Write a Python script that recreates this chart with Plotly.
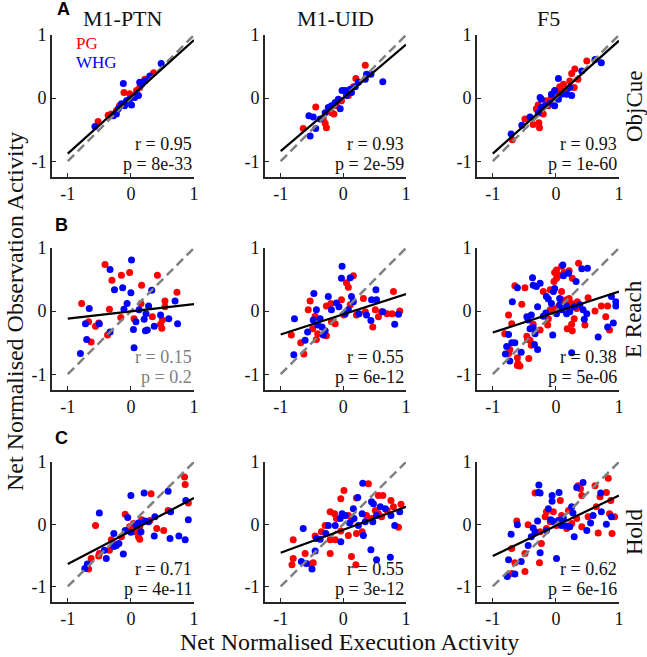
import plotly.graph_objects as go

# ---------------- DATA ----------------
col_titles = ["M1-PTN", "M1-UID", "F5"]
row_titles = ["ObjCue", "E Reach", "Hold"]
panel_letters = ["A", "B", "C"]
tick_vals = [-1, 0, 1]
tick_text = ["-1", "0", "1"]

# ObjCue
obj_ptn_pg_x = [0.36, 0.22, 0.14, 0.09, -0.02, -0.11, -0.18, -0.23, -0.31, -0.36, -0.52]
obj_ptn_pg_y = [0.40, 0.30, 0.17, 0.12, 0.07, 0.09, -0.12, -0.20, -0.25, -0.27, -0.37]
obj_ptn_whg_x = [0.48, 0.30, 0.22, 0.17, 0.14, 0.09, 0.12, 0.06, 0.01, -0.02, -0.07, -0.10, -0.12, -0.15, -0.20, -0.23, -0.28, -0.57]
obj_ptn_whg_y = [0.55, 0.35, 0.27, 0.22, 0.25, 0.06, 0.04, 0.01, -0.11, -0.02, -0.04, -0.12, 0.23, -0.09, -0.17, -0.25, -0.28, -0.45]

obj_uid_pg_x = [0.35, 0.20, -0.44, -0.64, -0.29, -0.27, -0.15, -0.11, 0.08, 0.16, -0.19, -0.32, -0.03]
obj_uid_pg_y = [0.52, 0.31, -0.14, -0.48, -0.40, -0.47, -0.25, -0.12, 0.04, 0.18, -0.23, -0.33, -0.04]
obj_uid_whg_x = [0.63, 0.44, 0.37, 0.35, 0.24, 0.19, 0.11, 0.03, -0.02, 0.05, -0.08, -0.13, -0.19, -0.24, -0.29, -0.55, -0.48, -0.44, -0.53, -0.37, -0.05, 0.13]
obj_uid_whg_y = [0.26, 0.38, 0.38, 0.30, 0.25, 0.18, 0.14, 0.12, 0.12, 0.04, -0.02, -0.07, -0.12, -0.15, -0.23, -0.28, -0.30, -0.48, -0.60, -0.33, -0.17, 0.09]

obj_f5_pg_x = [0.49, 0.30, 0.25, 0.35, 0.22, 0.29, 0.12, 0.06, 0.09, -0.07, -0.15, -0.12, -0.28, -0.31, -0.49, -0.36, -0.27, -0.26, -0.69, 0.04, 0.17, -0.20]
obj_f5_pg_y = [0.59, 0.46, 0.39, 0.30, 0.27, 0.17, 0.22, 0.18, 0.12, 0.01, -0.04, -0.12, -0.11, -0.17, -0.33, -0.42, -0.39, -0.47, -0.66, 0.06, 0.12, -0.25]
obj_f5_whg_x = [0.72, 0.62, 0.41, 0.04, 0.22, 0.25, 0.17, -0.02, -0.07, -0.02, -0.09, -0.25, -0.23, -0.23, -0.28, -0.41, -0.54, -0.71, -0.17, 0.09, 0.04]
obj_f5_whg_y = [0.56, 0.61, 0.43, 0.31, 0.17, 0.04, 0.06, 0.12, 0.06, -0.12, -0.08, 0.01, -0.02, -0.15, -0.23, -0.30, -0.43, -0.57, -0.12, 0.06, -0.02]

# E Reach
reach_ptn_pg_x = [-0.41, -0.30, -0.15, -0.02, 0.17, 0.42, 0.73, 0.54, 0.54, -0.78, -0.67, -0.56, -0.51, -0.63, -0.37, -0.34, -0.16, 0.05, 0.16, 0.34, 0.50, 0.49, 0.47]
reach_ptn_pg_y = [0.74, 0.49, 0.57, 0.61, 0.41, 0.57, 0.30, 0.16, 0.07, 0.12, -0.17, -0.24, -0.19, -0.49, -0.38, 0.03, -0.10, -0.12, 0.12, -0.09, -0.14, -0.27, -0.21]
reach_ptn_whg_x = [0.01, -0.33, -0.26, -0.13, 0.00, 0.33, 0.70, 0.74, 0.60, 0.47, 0.37, 0.26, 0.23, 0.08, 0.21, 0.24, 0.28, -0.06, -0.11, 0.04, 0.05, -0.66, -0.72, -0.50, -0.70, -0.80, -0.33, 0.13]
reach_ptn_whg_y = [0.81, 0.66, 0.34, 0.37, 0.29, 0.33, 0.16, -0.20, -0.12, -0.06, -0.24, -0.30, -0.31, -0.17, -0.13, -0.04, 0.08, 0.12, 0.03, -0.29, -0.58, 0.04, -0.20, -0.20, -0.45, -0.67, -0.33, 0.02]

reach_uid_pg_x = [0.16, 0.05, 0.08, -0.53, -0.56, -0.83, -0.68, -0.63, -0.43, -0.41, -0.27, -0.19, -0.13, -0.27, -0.20, -0.03, 0.01, 0.11, 0.32, 0.35, 0.47, 0.56, 0.61, 0.70, 0.78, 0.80, 0.51, 0.21, -0.45, -0.49, 0.90]
reach_uid_pg_y = [0.56, 0.45, 0.38, 0.16, 0.02, -0.38, -0.50, -0.68, -0.45, -0.36, -0.39, -0.17, -0.20, 0.08, 0.12, 0.18, -0.06, 0.10, 0.20, -0.01, -0.25, -0.09, -0.01, -0.04, -0.04, 0.31, 0.02, -0.06, -0.08, -0.28, 0.00]
reach_uid_whg_x = [-0.02, -0.03, 0.11, -0.47, -0.24, -0.78, -0.79, -0.61, -0.57, -0.48, -0.41, -0.37, -0.34, -0.29, -0.32, -0.43, -0.19, -0.11, -0.07, 0.13, 0.16, 0.25, 0.37, 0.45, 0.52, 0.53, 0.44, 0.63, 0.82, 0.03, 0.08, 0.88]
reach_uid_whg_y = [0.71, 0.52, 0.53, 0.28, 0.23, -0.12, -0.69, -0.46, -0.33, -0.14, -0.22, -0.12, -0.25, -0.31, -0.38, 0.02, 0.02, 0.13, 0.07, 0.23, 0.15, -0.04, -0.06, 0.18, 0.34, 0.18, -0.15, -0.01, -0.21, -0.04, 0.02, -0.05]

reach_f5_pg_x = [0.36, 0.09, 0.01, -0.02, 0.05, 0.13, 0.21, 0.26, 0.01, -0.03, -0.09, -0.20, -0.65, -0.49, -0.54, -0.75, -0.70, -0.81, -0.73, -0.75, -0.61, -0.60, -0.57, -0.61, -0.43, -0.46, -0.45, -0.41, -0.39, -0.36, -0.25, -0.13, -0.12, -0.09, 0.04, 0.09, 0.17, 0.21, 0.25, 0.34, 0.33, 0.29, 0.25, 0.18, 0.26, 0.46, 0.51, 0.62, 0.72, 0.82, 0.79, 0.85, -0.03, 0.09]
reach_f5_pg_y = [0.76, 0.71, 0.65, 0.61, 0.57, 0.61, 0.64, 0.52, 0.52, 0.47, 0.34, 0.31, 0.40, 0.37, 0.11, -0.06, -0.20, -0.36, -0.61, -0.67, -0.74, -0.83, -0.87, -0.86, -0.75, -0.40, -0.45, -0.46, -0.54, -0.21, -0.30, -0.22, -0.12, 0.02, 0.07, 0.18, 0.18, 0.20, 0.12, 0.15, 0.04, -0.12, -0.21, -0.28, -0.31, -0.22, 0.21, 0.00, 0.08, 0.08, -0.09, -0.30, 0.03, 0.31]
reach_f5_whg_x = [0.11, 0.12, 0.20, 0.41, 0.50, 0.32, -0.02, -0.04, 0.06, -0.15, -0.12, -0.07, -0.37, -0.36, -0.31, -0.25, -0.61, -0.69, -0.29, -0.39, -0.46, -0.44, -0.36, -0.41, -0.33, -0.34, -0.29, -0.75, -0.78, -0.70, -0.65, -0.55, -0.80, -0.73, -0.05, -0.20, -0.16, 0.09, 0.17, 0.22, 0.29, 0.38, 0.43, 0.45, 0.49, 0.67, 0.82, 0.91, 0.88, 0.95, 0.95, 0.25, 0.06, 0.01, 0.17]
reach_f5_whg_y = [0.73, 0.56, 0.60, 0.67, 0.68, 0.47, 0.36, 0.31, 0.20, 0.23, 0.19, 0.12, 0.53, 0.41, 0.39, 0.44, 0.37, 0.15, 0.07, -0.06, -0.09, -0.14, -0.26, -0.28, -0.36, -0.53, -0.61, -0.37, -0.56, -0.50, -0.50, -0.65, -0.68, -0.79, -0.38, -0.08, -0.03, 0.02, -0.04, -0.01, 0.07, 0.10, 0.02, -0.13, -0.04, -0.41, -0.25, -0.19, 0.23, 0.15, 0.08, -0.66, 0.10, -0.04, 0.08]

# Hold
hold_ptn_pg_x = [0.85, 0.86, 0.91, 0.32, 0.59, 0.52, 0.41, -0.56, -0.09, -0.02, 0.04, 0.14, 0.12, 0.14, 0.06, 0.17, -0.31, -0.27, -0.34, -0.50, -0.51, -0.63, -0.67, -0.15, 0.30]
hold_ptn_pg_y = [0.76, 0.64, 0.34, 0.49, 0.22, -0.10, -0.07, -0.02, 0.16, -0.04, 0.01, -0.04, -0.20, -0.24, -0.12, 0.07, -0.25, -0.32, -0.42, -0.47, -0.51, -0.55, -0.72, -0.20, 0.06]
hold_ptn_whg_x = [0.21, 0.00, 0.59, 0.87, 0.63, 0.91, -0.05, -0.50, 0.38, 0.22, 0.12, 0.08, 0.16, -0.09, 0.00, 0.37, 0.62, 0.76, 0.86, -0.27, -0.19, -0.23, -0.27, -0.42, -0.39, -0.12, -0.69, -0.73, 0.28]
hold_ptn_whg_y = [0.50, 0.46, 0.53, 0.38, 0.20, 0.07, 0.11, 0.18, 0.12, 0.05, 0.02, -0.02, -0.12, -0.10, -0.13, -0.19, -0.23, -0.19, -0.25, -0.15, -0.31, -0.34, -0.36, -0.42, -0.55, -0.48, -0.64, -0.71, 0.04]

hold_uid_pg_x = [0.01, -0.04, 0.40, 0.56, 0.63, 0.21, -0.21, -0.14, -0.29, -0.11, -0.21, -0.13, -0.21, -0.61, -0.80, -0.80, -0.82, -0.52, -0.48, 0.13, 0.20, 0.08, 0.21, 0.30, 0.56, 0.61, 0.70, 0.76, 0.80, 0.51, 0.37, 0.45, 0.08, 0.13, -0.04, -0.35, -0.45, 0.92, 0.88]
hold_uid_pg_y = [0.54, 0.41, 0.65, 0.46, 0.46, 0.42, 0.20, 0.17, -0.02, 0.09, -0.25, -0.25, -0.47, -0.47, -0.25, -0.55, -0.65, -0.64, -0.62, -0.52, -0.65, -0.18, -0.15, -0.12, 0.17, 0.12, 0.22, 0.38, 0.28, 0.22, 0.14, 0.09, 0.14, 0.06, -0.11, -0.12, -0.19, 0.32, -0.05]
hold_uid_whg_x = [0.31, 0.23, 0.30, 0.45, 0.48, 0.59, 0.67, 0.76, 0.82, -0.02, 0.03, -0.05, -0.13, -0.24, -0.28, -0.37, -0.43, -0.04, -0.64, -0.45, -0.67, -0.59, -0.50, 0.32, 0.44, 0.53, 0.75, 0.17, 0.24, 0.35, 0.47, 0.53, 0.10, 0.16, 0.90]
hold_uid_whg_y = [0.66, 0.43, 0.17, 0.36, 0.33, 0.28, 0.25, 0.14, -0.02, 0.17, 0.14, 0.09, -0.02, -0.02, -0.15, -0.24, -0.23, -0.28, -0.07, -0.43, -0.60, -0.63, -0.72, -0.18, -0.41, -0.57, -0.53, 0.09, -0.02, 0.04, 0.04, 0.14, 0.02, 0.25, 0.20]

hold_f5_pg_x = [0.83, 0.80, 0.87, 0.85, 0.93, 0.89, 0.67, 0.70, 0.64, 0.62, 0.35, 0.39, 0.41, 0.07, -0.04, -0.15, -0.33, -0.17, -0.09, -0.15, -0.25, -0.23, -0.44, -0.62, -0.49, -0.70, -0.65, -0.70, -0.49, -0.26, 0.17, 0.25, 0.33, 0.51, 0.41, 0.20, 0.01, 0.09]
hold_f5_pg_y = [0.74, 0.51, 0.38, 0.17, 0.12, -0.15, -0.14, 0.44, 0.28, 0.62, 0.62, 0.57, 0.46, 0.38, 0.20, 0.20, 0.50, 0.12, 0.04, -0.07, -0.12, -0.31, -0.01, 0.05, -0.47, -0.39, -0.62, -0.79, -0.76, -0.62, -0.07, 0.01, 0.09, 0.12, -0.04, 0.22, -0.02, 0.14]
hold_f5_whg_x = [0.43, 0.33, 0.71, 0.72, 0.59, 0.80, 0.88, 0.55, 0.49, 0.29, 0.27, 0.25, -0.27, -0.28, -0.25, -0.06, -0.06, 0.05, -0.12, -0.08, -0.03, 0.04, 0.09, 0.17, 0.22, -0.29, -0.36, -0.33, -0.39, -0.44, -0.25, 0.01, -0.61, -0.71, -0.75, -0.55, -0.65, -0.77, -0.15, 0.12]
hold_f5_whg_y = [0.67, 0.59, 0.50, 0.20, 0.14, 0.00, 0.12, 0.02, -0.10, -0.20, 0.18, 0.28, 0.63, 0.51, 0.50, 0.46, 0.37, 0.51, 0.25, 0.07, 0.04, 0.06, -0.02, -0.03, -0.04, 0.05, -0.06, -0.12, -0.20, -0.34, -0.46, -0.55, -0.01, -0.16, -0.57, -0.60, -0.80, -0.84, -0.10, 0.09]

# Regression fits (slope, intercept) per row, per column
fit_slope = [[0.90, 0.845, 0.895], [0.115, 0.32, 0.325], [0.53, 0.37, 0.485]]
fit_intercept = [[0.02, 0.005, 0.015], [-0.005, -0.05, -0.015], [-0.11, -0.09, -0.025]]
r_text = [["0.95", "0.93", "0.93"], ["0.15", "0.55", "0.38"], ["0.71", "0.55", "0.62"]]
p_text = [["8e-33", "2e-59", "1e-60"], ["0.2", "6e-12", "5e-06"], ["4e-11", "3e-12", "6e-16"]]
significant = [[True, True, True], [False, True, True], [True, True, True]]

panels = [
    [(obj_ptn_pg_x, obj_ptn_pg_y, obj_ptn_whg_x, obj_ptn_whg_y),
     (obj_uid_pg_x, obj_uid_pg_y, obj_uid_whg_x, obj_uid_whg_y),
     (obj_f5_pg_x, obj_f5_pg_y, obj_f5_whg_x, obj_f5_whg_y)],
    [(reach_ptn_pg_x, reach_ptn_pg_y, reach_ptn_whg_x, reach_ptn_whg_y),
     (reach_uid_pg_x, reach_uid_pg_y, reach_uid_whg_x, reach_uid_whg_y),
     (reach_f5_pg_x, reach_f5_pg_y, reach_f5_whg_x, reach_f5_whg_y)],
    [(hold_ptn_pg_x, hold_ptn_pg_y, hold_ptn_whg_x, hold_ptn_whg_y),
     (hold_uid_pg_x, hold_uid_pg_y, hold_uid_whg_x, hold_uid_whg_y),
     (hold_f5_pg_x, hold_f5_pg_y, hold_f5_whg_x, hold_f5_whg_y)],
]

# ---------------- LAYOUT ----------------
W, H = 647, 657
SERIF = "Liberation Serif"
SANS = "Liberation Sans"
RED = "rgb(255,0,0)"
BLUE = "rgb(0,0,255)"
AXC = "#262626"

col_px = [(52, 194), (265, 406), (477, 619)]
row_px = [(35, 177), (248, 390), (462, 602)]

fig = go.Figure()
layout = {}
annotations = []

for r in range(3):
    for c in range(3):
        k = r * 3 + c + 1
        xa = "x" if k == 1 else f"x{k}"
        ya = "y" if k == 1 else f"y{k}"
        xname = "xaxis" if k == 1 else f"xaxis{k}"
        yname = "yaxis" if k == 1 else f"yaxis{k}"
        x0, x1 = col_px[c]
        y0, y1 = row_px[r]
        axis_common = dict(
            range=[-1.25, 1.0], tickvals=tick_vals, ticktext=tick_text,
            showgrid=False, zeroline=False, showline=True, linecolor=AXC,
            linewidth=1.6, ticks="inside", ticklen=4, tickwidth=1.4,
            tickcolor=AXC, tickfont=dict(family=SERIF, size=18, color="#111"),
            fixedrange=True, automargin=False,
        )
        layout[xname] = dict(axis_common, domain=[x0 / W, x1 / W], anchor=ya)
        layout[yname] = dict(axis_common, domain=[1 - y1 / H, 1 - y0 / H], anchor=xa)

        pgx, pgy, whx, why = panels[r][c]
        fig.add_trace(go.Scatter(x=pgx, y=pgy, mode="markers", xaxis=xa, yaxis=ya,
                                 marker=dict(color=RED, size=7), showlegend=False, hoverinfo="skip"))
        fig.add_trace(go.Scatter(x=whx, y=why, mode="markers", xaxis=xa, yaxis=ya,
                                 marker=dict(color=BLUE, size=7), showlegend=False, hoverinfo="skip"))
        # identity line
        fig.add_trace(go.Scatter(x=[-1, 1], y=[-1, 1], mode="lines", xaxis=xa, yaxis=ya,
                                 line=dict(color="rgb(128,128,128)", width=2.5, dash="9px,5px"),
                                 showlegend=False, hoverinfo="skip"))
        # regression line
        s, b = fit_slope[r][c], fit_intercept[r][c]
        fig.add_trace(go.Scatter(x=[-1, 1], y=[s * -1 + b, s * 1 + b], mode="lines", xaxis=xa, yaxis=ya,
                                 line=dict(color="black", width=2.2),
                                 showlegend=False, hoverinfo="skip"))
        tc = "#111" if significant[r][c] else "rgb(128,128,128)"
        annotations.append(dict(x=0.995, y=-0.72, xref=xa, yref=ya, text=f"r = {r_text[r][c]}",
                                showarrow=False, xanchor="right", yanchor="middle",
                                font=dict(family=SERIF, size=18, color=tc)))
        annotations.append(dict(x=0.995, y=-1.04, xref=xa, yref=ya, text=f"p = {p_text[r][c]}",
                                showarrow=False, xanchor="right", yanchor="middle",
                                font=dict(family=SERIF, size=18, color=tc)))

# column titles
for c in range(3):
    x0, x1 = col_px[c]
    annotations.append(dict(x=(x0 + x1) / 2 / W, y=1 - 19 / H, xref="paper", yref="paper",
                            text=col_titles[c], showarrow=False, xanchor="center", yanchor="middle",
                            font=dict(family=SERIF, size=22, color="#111")))
# row titles (right side)
for r in range(3):
    y0, y1 = row_px[r]
    annotations.append(dict(x=634 / W, y=1 - (y0 + y1) / 2 / H, xref="paper", yref="paper",
                            text=row_titles[r], showarrow=False, textangle=-90,
                            xanchor="center", yanchor="middle",
                            font=dict(family=SERIF, size=23, color="#111")))
# panel letters
letter_pos = [(63, 9), (61, 225), (61, 438)]
for r in range(3):
    lx, ly = letter_pos[r]
    annotations.append(dict(x=lx / W, y=1 - ly / H, xref="paper", yref="paper",
                            text=f"<b>{panel_letters[r]}</b>", showarrow=False,
                            xanchor="center", yanchor="middle",
                            font=dict(family=SANS, size=18, color="black")))
# legend text
annotations.append(dict(x=-0.90, y=0.86, xref="x", yref="y", text="PG", showarrow=False,
                        xanchor="left", yanchor="middle", font=dict(family=SERIF, size=17, color=RED)))
annotations.append(dict(x=-0.90, y=0.57, xref="x", yref="y", text="WHG", showarrow=False,
                        xanchor="left", yanchor="middle", font=dict(family=SERIF, size=17, color=BLUE)))
# axis titles
annotations.append(dict(x=349 / W, y=1 - 642 / H, xref="paper", yref="paper",
                        text="Net Normalised Execution Activity", showarrow=False,
                        xanchor="center", yanchor="middle",
                        font=dict(family=SERIF, size=24, color="#111")))
annotations.append(dict(x=15 / W, y=1 - 312 / H, xref="paper", yref="paper",
                        text="Net Normalised Observation Activity", showarrow=False, textangle=-90,
                        xanchor="center", yanchor="middle",
                        font=dict(family=SERIF, size=24, color="#111")))

fig.update_layout(
    width=W, height=H, margin=dict(l=0, r=0, t=0, b=0, pad=0), autosize=False,
    paper_bgcolor="white", plot_bgcolor="white",
    annotations=annotations, showlegend=False, **layout,
)

fig.write_html("out.html", config={"displayModeBar": False, "responsive": False},
               post_script="document.body.style.margin='0px';document.body.style.padding='0px';document.body.style.overflow='hidden';")
